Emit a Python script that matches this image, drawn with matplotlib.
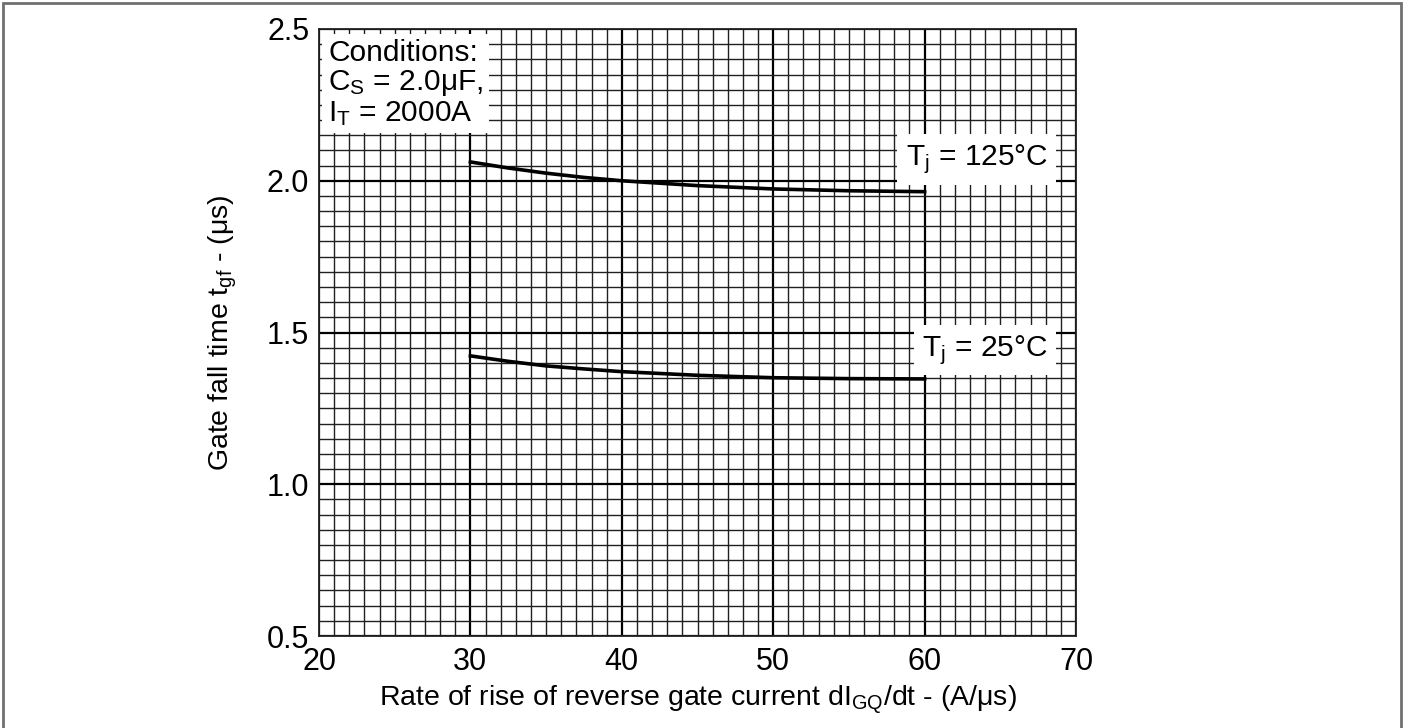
import matplotlib
matplotlib.use("Agg")
import matplotlib.pyplot as plt
from matplotlib.patches import Rectangle
from matplotlib.ticker import MultipleLocator

plt.rcParams['font.family'] = ['Liberation Sans', 'DejaVu Sans']
plt.rcParams['mathtext.fontset'] = 'custom'
plt.rcParams['mathtext.rm'] = 'Liberation Sans'
plt.rcParams['mathtext.it'] = 'Liberation Sans:italic'

# Data
x_vals = [30, 32.5, 35, 37.5, 40, 45, 50, 55, 60]
tgf_125 = [2.062, 2.042, 2.025, 2.011, 2.000, 1.984, 1.973, 1.967, 1.964]
tgf_25 = [1.423, 1.405, 1.390, 1.380, 1.371, 1.359, 1.351, 1.348, 1.347]
x_ticks = [20, 30, 40, 50, 60, 70]
y_ticks = [0.5, 1.0, 1.5, 2.0, 2.5]
x_tick_labels = ["20", "30", "40", "50", "60", "70"]
y_tick_labels = ["0.5", "1.0", "1.5", "2.0", "2.5"]

W, H = 1407, 728
fig = plt.figure(figsize=(W / 100, H / 100), dpi=100)
ax = fig.add_axes([319 / W, (H - 636) / H, 757 / W, 607 / H])

ax.set_xlim(20, 70)
ax.set_ylim(0.5, 2.5)
ax.set_xticks(x_ticks)
ax.set_xticklabels(x_tick_labels)
ax.set_yticks(y_ticks)
ax.set_yticklabels(y_tick_labels)
ax.xaxis.set_minor_locator(MultipleLocator(1))
ax.yaxis.set_minor_locator(MultipleLocator(0.05))
ax.grid(which='minor', color='#202020', linewidth=1.0)
ax.grid(which='major', color='black', linewidth=1.6)
ax.set_axisbelow(True)
ax.tick_params(which='both', length=0)
ax.tick_params(axis='x', pad=8, labelsize=22)
ax.tick_params(axis='y', pad=7, labelsize=22)
for s in ax.spines.values():
    s.set_color('#202020')
    s.set_linewidth(1.3)

ax.plot(x_vals, tgf_125, color='black', linewidth=2.6, zorder=3)
ax.plot(x_vals, tgf_25, color='black', linewidth=2.6, zorder=3)

ax.set_xlabel(r"Rate of rise of reverse gate current dI$\mathregular{_{GQ}}$/dt - (A/μs)",
              fontsize=20.5, labelpad=4)
ax.set_ylabel(r"Gate fall time t$\mathregular{_{gf}}$ - (μs)", fontsize=20.5, labelpad=20)

ax.text(20.6, 2.468,
        "Conditions:\n" + r"C$\mathregular{_S}$ = 2.0μF," + "\n" + r"I$\mathregular{_T}$ = 2000A",
        fontsize=21.5, va='top', ha='left', linespacing=1.05,
        bbox=dict(facecolor='white', edgecolor='none', pad=4), zorder=4)
ax.text(68.15, 2.07, r"T$\mathregular{_j}$ = 125°C", fontsize=21.5, ha='right', va='center',
        bbox=dict(facecolor='white', edgecolor='none', boxstyle='square,pad=0.28'), zorder=4)
ax.text(68.15, 1.442, r"T$\mathregular{_j}$ = 25°C", fontsize=21.5, ha='right', va='center',
        bbox=dict(facecolor='white', edgecolor='none', boxstyle='square,pad=0.28'), zorder=4)

fig.patches.append(Rectangle((3 / W, -0.02), (1400.5 - 3) / W, 1.02 - 3 / H,
                             transform=fig.transFigure, fill=False,
                             edgecolor='#707070', linewidth=2))

fig.savefig("out.png", dpi=100)
